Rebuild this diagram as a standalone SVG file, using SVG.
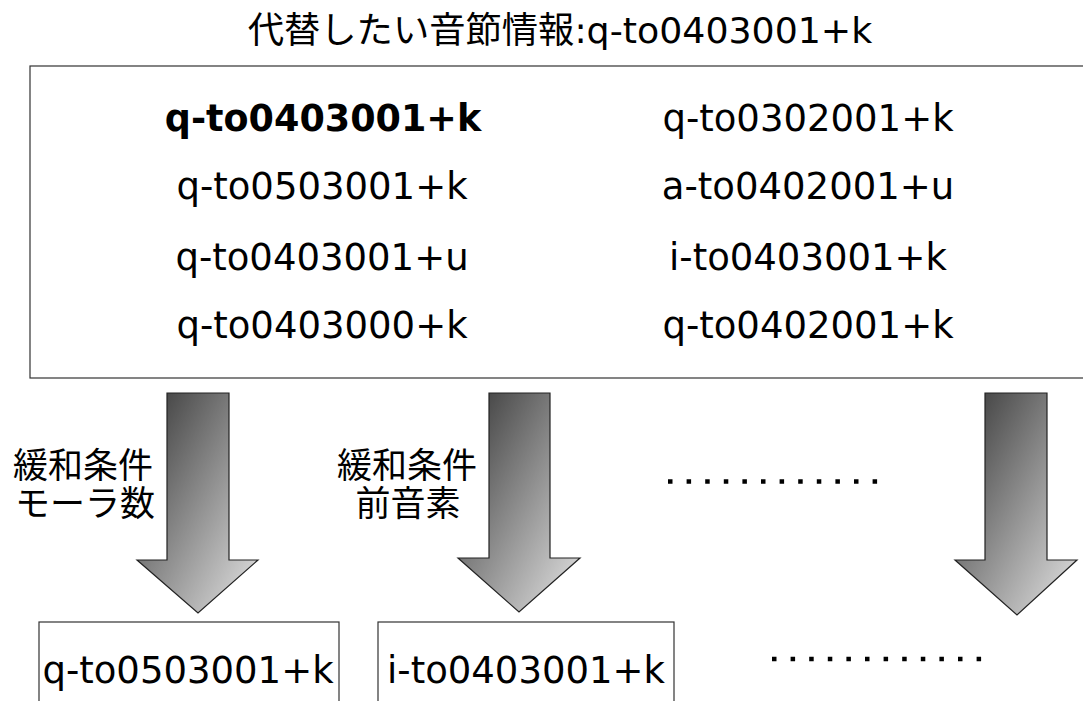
<svg xmlns="http://www.w3.org/2000/svg" width="1083" height="701" viewBox="0 0 1083 701">
<style>
text{font-family:"DejaVu Sans","Noto Sans CJK JP",sans-serif;font-size:37px;fill:#000;text-anchor:middle}
.b{font-weight:bold;font-size:36.5px}
.j{font-size:35px}
.box{fill:#fff;stroke:#333;stroke-width:1.2}
.arrow{fill:url(#g);stroke:#222;stroke-width:1.2;stroke-linejoin:miter}
.dots{stroke:#000;stroke-width:4.5;stroke-dasharray:4.5 14.1}
</style>
<defs>
<linearGradient id="g" x1="0" y1="0" x2="1" y2="1">
<stop offset="0" stop-color="#333"/>
<stop offset="1" stop-color="#e6e6e6"/>
</linearGradient>
</defs>
<rect width="1083" height="701" fill="#fff"/>
<g id="title"><text x="560" y="43" style="font-size:36.3px">代替したい音節情報:q-to0403001+k</text></g>
<g id="candidates">
<rect class="box" x="30" y="66" width="1060" height="312"/>
<text class="b" x="323" y="131">q-to0403001+k</text>
<text x="808" y="131">q-to0302001+k</text>
<text x="322" y="199">q-to0503001+k</text>
<text x="808" y="199">a-to0402001+u</text>
<text x="322" y="270">q-to0403001+u</text>
<text x="808" y="270">i-to0403001+k</text>
<text x="322" y="338">q-to0403000+k</text>
<text x="808" y="338">q-to0402001+k</text>
</g>
<g id="connectors">
<path class="arrow" d="M167,393 H229 V560 H258 L198,613 L137,560 H167 Z"/>
<path class="arrow" d="M489,393 H550 V558 H580 L519,612 L458,558 H489 Z"/>
<path class="arrow" d="M985,393 H1047 V560 H1077 L1017,615 L955,560 H985 Z"/>
</g>
<g id="label1"><text class="j" x="83" y="478">緩和条件</text><text class="j" x="85" y="516">モーラ数</text></g>
<g id="label2"><text class="j" x="407" y="478">緩和条件</text><text class="j" x="408" y="516">前音素</text></g>
<g id="dots1"><line class="dots" x1="668" y1="481.5" x2="878" y2="481.5"/></g>
<g id="result1"><rect class="box" x="39" y="622" width="300" height="100"/><text x="188" y="683">q-to0503001+k</text></g>
<g id="result2"><rect class="box" x="378" y="622" width="296" height="100"/><text x="526" y="683">i-to0403001+k</text></g>
<g id="dots2"><line class="dots" x1="772" y1="659" x2="982" y2="659"/></g>
</svg>
